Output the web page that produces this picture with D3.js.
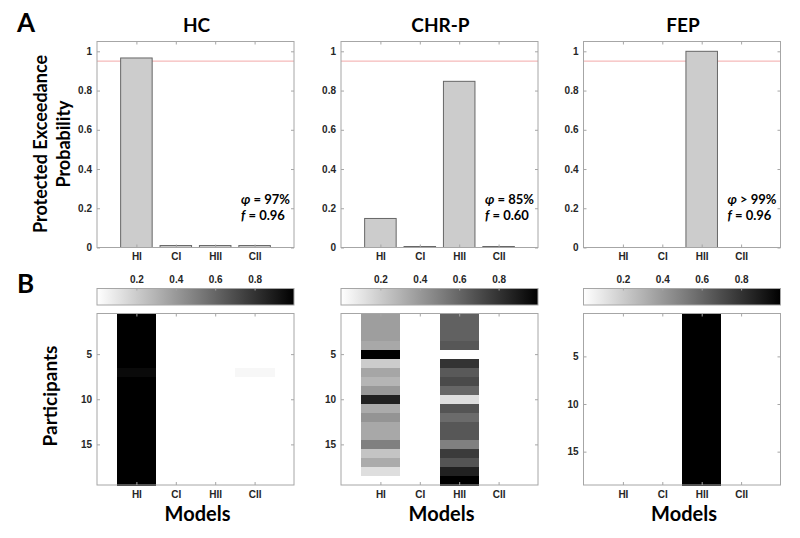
<!DOCTYPE html>
<html lang="en">
<head>
<meta charset="UTF-8">
<title>Protected exceedance probability</title>
<script src="https://cdn.jsdelivr.net/npm/d3@7/dist/d3.min.js"></script>
<style>
    body { margin: 0; background: #fff; }
    svg text { font-family: "Liberation Sans", Arial, sans-serif; }
    .tick text { font-size: 10px; font-weight: 700; fill: #262626; }
    .tick line { stroke: #a6a6a6; }
    .big { font-family: Lato, "Open Sans", sans-serif; font-weight: 700; fill: #000; }
    .cell { shape-rendering: crispEdges; }
</style>
</head>
<body>
<script>
    /* ---------- data ---------- */
    const models = ["HI", "CI", "HII", "CII"];
    const groups = ["HC", "CHR-P", "FEP"];

    // protected exceedance probability per model
    const pxpHC   = [0.966, 0.01, 0.01, 0.01];
    const pxpCHRP = [0.148, 0.005, 0.847, 0.005];
    const pxpFEP  = [0, 0, 1.0, 0];

    const phiText = ["φ = 97%", "φ = 85%", "φ > 99%"];
    const fText   = ["0.96", "0.60", "0.96"];

    const barTicks = [0, 0.2, 0.4, 0.6, 0.8, 1];
    const barTickLabels = ["0", "0.2", "0.4", "0.6", "0.8", "1"];
    const threshold = 0.95;
    const cbarTicks = [0.2, 0.4, 0.6, 0.8];
    const partTicks = [5, 10, 15];

    // posterior model attributions, one array per model (participants top to bottom)
    const hcHI   = [1, 1, 1, 1, 1, 1, 0.96, 1, 1, 1, 1, 1, 1, 1, 1, 1, 1, 1, 1];
    const hcCI   = [0, 0, 0, 0, 0, 0, 0, 0, 0, 0, 0, 0, 0, 0, 0, 0, 0, 0, 0];
    const hcHII  = [0, 0, 0, 0, 0, 0, 0, 0, 0, 0, 0, 0, 0, 0, 0, 0, 0, 0, 0];
    const hcCII  = [0, 0, 0, 0, 0, 0, 0.03, 0, 0, 0, 0, 0, 0, 0, 0, 0, 0, 0, 0];

    const chrHI  = [0.38, 0.38, 0.38, 0.34, 1.0, 0.2, 0.35, 0.29, 0.4, 0.87, 0.33, 0.42, 0.34, 0.34, 0.5, 0.23, 0.33, 0.13, 0];
    const chrCI  = [0, 0, 0, 0, 0, 0, 0, 0, 0, 0, 0, 0, 0, 0, 0, 0, 0, 0, 0];
    const chrHII = [0.62, 0.62, 0.62, 0.66, 0, 0.8, 0.65, 0.71, 0.6, 0.13, 0.67, 0.58, 0.66, 0.66, 0.5, 0.77, 0.67, 0.87, 1.0];
    const chrCII = [0, 0, 0, 0, 0, 0, 0, 0, 0, 0, 0, 0, 0, 0, 0, 0, 0, 0, 0];

    const fepHI  = [0, 0, 0, 0, 0, 0, 0, 0, 0, 0, 0, 0, 0, 0, 0, 0, 0, 0];
    const fepCI  = [0, 0, 0, 0, 0, 0, 0, 0, 0, 0, 0, 0, 0, 0, 0, 0, 0, 0];
    const fepHII = [1, 1, 1, 1, 1, 1, 1, 1, 1, 1, 1, 1, 1, 1, 1, 1, 1, 1];
    const fepCII = [0, 0, 0, 0, 0, 0, 0, 0, 0, 0, 0, 0, 0, 0, 0, 0, 0, 0];

    const pxp = [pxpHC, pxpCHRP, pxpFEP];
    const attr = [
        [hcHI, hcCI, hcHII, hcCII],
        [chrHI, chrCI, chrHII, chrCII],
        [fepHI, fepCI, fepHII, fepCII]
    ];

    /* ---------- layout ---------- */
    const W = 800, H = 538;
    const panelX = [97, 341, 583.5];
    const panelW = 197;
    const barTop = 41.5, barBottom = 247.5;
    const cbTop = 288.5, cbBottom = 305;
    const hmTop = 313.5, hmBottom = 485;
    const tick = 3;
    const boxColor = "#a6a6a6";

    const svg = d3.select("body").append("svg")
        .attr("width", W)
        .attr("height", H);

    const grey = d3.scaleLinear().domain([0, 1]).range(["#ffffff", "#000000"]);

    // gradient for colour bars
    const grad = svg.append("defs").append("linearGradient")
        .attr("id", "cbar")
        .attr("x1", "0%").attr("x2", "100%")
        .attr("y1", "0%").attr("y2", "0%");
    d3.range(0, 1.0001, 0.1).forEach(t => {
        grad.append("stop")
            .attr("offset", (t * 100) + "%")
            .attr("stop-color", grey(t));
    });

    function styleAxis(g) {
        g.select(".domain").remove();
    }

    function box(g, x0, y0, w, h) {
        g.append("rect")
            .attr("x", x0).attr("y", y0)
            .attr("width", w).attr("height", h)
            .attr("fill", "none")
            .attr("stroke", boxColor)
            .attr("stroke-width", 1);
    }

    groups.forEach((name, gi) => {
        const x0 = panelX[gi];
        const g = svg.append("g");

        /* ===== A: bar chart ===== */
        const x = d3.scaleLinear().domain([0, 5]).range([x0, x0 + panelW]);
        const y = d3.scaleLinear().domain([0, 1.05]).range([barBottom, barTop]);
        const bw = (x(1) - x(0)) * 0.8;

        g.append("line")
            .attr("x1", x0).attr("x2", x0 + panelW)
            .attr("y1", y(threshold)).attr("y2", y(threshold))
            .attr("stroke", "#f2a8a8")
            .attr("stroke-width", 1);

        g.selectAll(".bar")
            .data(pxp[gi].map((v, i) => ({ m: i + 1, v: v })).filter(d => d.v > 0))
            .enter()
            .append("rect")
            .attr("x", d => x(d.m) - bw / 2)
            .attr("y", d => y(d.v))
            .attr("width", bw)
            .attr("height", d => y(0) - y(d.v))
            .attr("fill", "#cccccc")
            .attr("stroke", "#666")
            .attr("stroke-width", 1);

        g.append("g")
            .attr("transform", `translate(${x0},0)`)
            .call(d3.axisLeft(y).tickValues(barTicks)
                .tickFormat((d, i) => barTickLabels[i])
                .tickSize(-tick).tickPadding(5))
            .call(styleAxis);
        g.append("g")
            .attr("transform", `translate(${x0 + panelW},0)`)
            .call(d3.axisRight(y).tickValues(barTicks).tickFormat("").tickSize(-tick))
            .call(styleAxis);
        g.append("g")
            .attr("transform", `translate(0,${barBottom})`)
            .call(d3.axisBottom(x).tickValues([1, 2, 3, 4])
                .tickFormat(d => models[d - 1])
                .tickSize(-tick).tickPadding(5))
            .call(styleAxis);
        g.append("g")
            .attr("transform", `translate(0,${barTop})`)
            .call(d3.axisTop(x).tickValues([1, 2, 3, 4]).tickFormat("").tickSize(-tick))
            .call(styleAxis);

        box(g, x0, barTop, panelW, barBottom - barTop);

        g.append("text")
            .attr("class", "big")
            .attr("x", x0 + panelW / 2 + 1)
            .attr("y", 32)
            .attr("text-anchor", "middle")
            .style("font-size", "19px")
            .text(name);

        const ann = g.append("text")
            .attr("class", "big")
            .attr("x", x0 + 144)
            .attr("y", 204)
            .style("font-size", "13px");
        ann.append("tspan").style("font-style", "italic").text(phiText[gi].slice(0, 1));
        ann.append("tspan").text(phiText[gi].slice(1));
        const ann2 = g.append("text")
            .attr("class", "big")
            .attr("x", x0 + 144)
            .attr("y", 220)
            .style("font-size", "13px");
        ann2.append("tspan").style("font-style", "italic").text("f");
        ann2.append("tspan").text(" = " + fText[gi]);

        /* ===== B: colour bar ===== */
        const c = d3.scaleLinear().domain([0, 1]).range([x0, x0 + panelW]);
        g.append("rect")
            .attr("x", x0).attr("y", cbTop)
            .attr("width", panelW).attr("height", cbBottom - cbTop)
            .attr("fill", "url(#cbar)");
        g.append("g")
            .attr("transform", `translate(0,${cbTop})`)
            .call(d3.axisTop(c).tickValues(cbarTicks).tickFormat(d3.format(".1f"))
                .tickSize(-2).tickPadding(6))
            .call(styleAxis);
        box(g, x0, cbTop, panelW, cbBottom - cbTop);

        /* ===== B: participant heat map ===== */
        const n = attr[gi][0].length;
        const hy = d3.scaleLinear().domain([0.5, n + 0.5]).range([hmTop, hmBottom]);
        const cells = [];
        attr[gi].forEach((col, mi) => {
            col.forEach((v, pi) => cells.push({ m: mi + 1, p: pi + 1, v: v }));
        });
        g.selectAll(".cell")
            .data(cells)
            .enter()
            .append("rect")
            .attr("class", "cell")
            .attr("x", d => x(d.m - 0.5))
            .attr("y", d => hy(d.p - 0.5))
            .attr("width", x(1) - x(0) + 0.5)
            .attr("height", hy(1.5) - hy(0.5) + 0.5)
            .attr("fill", d => grey(d.v));

        g.append("g")
            .attr("transform", `translate(${x0},0)`)
            .call(d3.axisLeft(hy).tickValues(partTicks).tickSize(-tick).tickPadding(5))
            .call(styleAxis);
        g.append("g")
            .attr("transform", `translate(${x0 + panelW},0)`)
            .call(d3.axisRight(hy).tickValues(partTicks).tickFormat("").tickSize(-tick))
            .call(styleAxis);
        g.append("g")
            .attr("transform", `translate(0,${hmBottom})`)
            .call(d3.axisBottom(x).tickValues([1, 2, 3, 4])
                .tickFormat(d => models[d - 1])
                .tickSize(-tick).tickPadding(6))
            .call(styleAxis);
        g.append("g")
            .attr("transform", `translate(0,${hmTop})`)
            .call(d3.axisTop(x).tickValues([1, 2, 3, 4]).tickFormat("").tickSize(-tick))
            .call(styleAxis);

        box(g, x0, hmTop, panelW, hmBottom - hmTop);

        g.append("text")
            .attr("class", "big")
            .attr("x", x0 + panelW / 2 + 2)
            .attr("y", 521)
            .attr("text-anchor", "middle")
            .style("font-size", "20px")
            .text("Models");
    });

    /* ---------- panel letters and shared labels ---------- */
    svg.append("text").attr("class", "big")
        .attr("x", 17).attr("y", 32)
        .style("font-size", "26px")
        .text("A");
    svg.append("text").attr("class", "big")
        .attr("x", 17).attr("y", 293)
        .style("font-size", "26px")
        .text("B");

    svg.append("text").attr("class", "big")
        .attr("transform", "translate(47,144) rotate(-90)")
        .attr("text-anchor", "middle")
        .style("font-size", "18px")
        .text("Protected Exceedance");
    svg.append("text").attr("class", "big")
        .attr("transform", "translate(70,144) rotate(-90)")
        .attr("text-anchor", "middle")
        .style("font-size", "18px")
        .text("Probability");
    svg.append("text").attr("class", "big")
        .attr("transform", "translate(57,396) rotate(-90)")
        .attr("text-anchor", "middle")
        .style("font-size", "19px")
        .text("Participants");
</script>
</body>
</html>
